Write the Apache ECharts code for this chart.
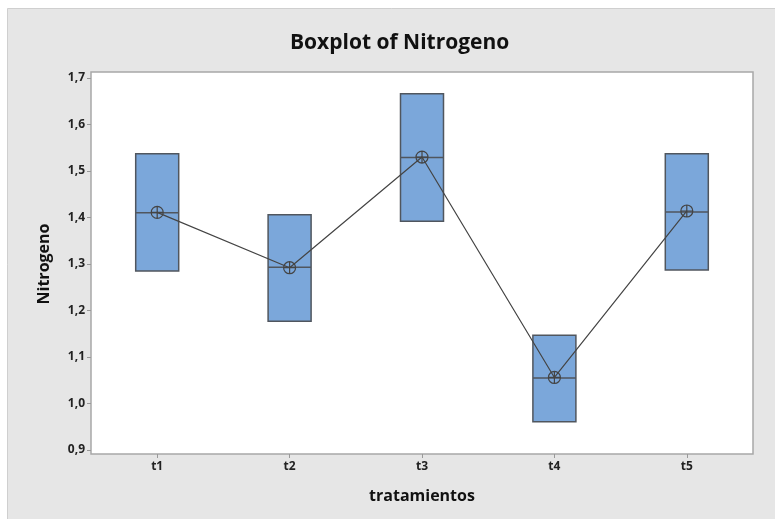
<!DOCTYPE html>
<html>
<head>
<meta charset="utf-8">
<script src="https://cdn.jsdelivr.net/npm/echarts@6/dist/echarts.min.js"></script>
<style>
html,body{margin:0;padding:0;background:#fff;}
#chart{width:775px;height:519px;}
</style>
</head>
<body>
<div id="chart"></div>
<script>
const categories = ['t1', 't2', 't3', 't4', 't5'];
// [Q1, median, Q3] for each treatment (whiskers collapse onto box edges)
const q1Values     = [1.285, 1.177, 1.392, 0.961, 1.287];
const medianValues = [1.410, 1.293, 1.529, 1.055, 1.412];
const q3Values     = [1.537, 1.406, 1.666, 1.147, 1.537];
const meanValues   = [1.411, 1.292, 1.530, 1.056, 1.414];
const yTicks = [0.9, 1.0, 1.1, 1.2, 1.3, 1.4, 1.5, 1.6, 1.7];

const boxData = categories.map((c, i) => [q1Values[i], q1Values[i], medianValues[i], q3Values[i], q3Values[i]]);
const FONT = 'Open Sans';

const chart = echarts.init(document.getElementById('chart'), null, {renderer: 'canvas'});
chart.setOption({
  backgroundColor: '#fff',
  animation: false,
  graphic: [{
    type: 'rect', z: -10, silent: true,
    shape: {x: 7.5, y: 8.5, width: 770, height: 515},
    style: {fill: '#e6e6e6', stroke: '#cfcfcf', lineWidth: 1}
  }],
  title: {
    text: 'Boxplot of Nitrogeno',
    left: 285, top: 28,
    textStyle: {fontFamily: FONT, fontSize: 21, fontWeight: 'bold', color: '#111'}
  },
  grid: [
    {left: 91, top: 72, width: 662, height: 382, show: true, backgroundColor: '#fff', borderColor: '#a8a8a8', borderWidth: 1.5, z: 0},
    {left: 91, top: 78, width: 662, height: 372, show: false}
  ],
  xAxis: [
    {gridIndex: 0, type: 'category', data: categories, show: false},
    {
      gridIndex: 1, type: 'category', data: categories, boundaryGap: true,
      offset: 4,
      name: 'tratamientos', nameLocation: 'middle', nameGap: 34,
      nameTextStyle: {fontFamily: FONT, fontSize: 16, fontWeight: 'bold', color: '#111'},
      axisLine: {show: false},
      axisTick: {show: true, alignWithLabel: true, length: 4, lineStyle: {color: '#999'}},
      axisLabel: {fontFamily: FONT, fontSize: 12, fontWeight: 'bold', color: '#222', margin: 7}
    }
  ],
  yAxis: [
    {gridIndex: 0, type: 'value', show: false, min: 0, max: 1},
    {
      gridIndex: 1, type: 'value', min: yTicks[0], max: yTicks[yTicks.length - 1], interval: 0.1,
      name: 'Nitrogeno', nameLocation: 'middle', nameGap: 39, nameRotate: 90,
      nameTextStyle: {fontFamily: FONT, fontSize: 16, fontWeight: 'bold', color: '#111'},
      axisLine: {show: false},
      splitLine: {show: false},
      axisTick: {show: true, length: 4, lineStyle: {color: '#999'}},
      axisLabel: {
        fontFamily: FONT, fontSize: 12, fontWeight: 'bold', color: '#222', margin: 6,
        formatter: v => v.toFixed(1).replace('.', ',')
      }
    }
  ],
  series: [
    {
      type: 'boxplot', xAxisIndex: 1, yAxisIndex: 1,
      data: boxData,
      boxWidth: [43, 43],
      itemStyle: {color: '#7ba7da', borderColor: '#50565e', borderWidth: 1.5},
      z: 2
    },
    {
      type: 'line', xAxisIndex: 1, yAxisIndex: 1,
      data: meanValues,
      symbol: 'path://M0,-10 A10,10 0 1,1 0,10 A10,10 0 1,1 0,-10 Z M0,-10 L0,10 M-10,0 L10,0',
      symbolSize: 12,
      itemStyle: {color: 'rgba(0,0,0,0)', borderColor: '#444', borderWidth: 1.2},
      lineStyle: {color: '#444', width: 1.2},
      z: 3
    }
  ]
});
</script>
</body>
</html>
